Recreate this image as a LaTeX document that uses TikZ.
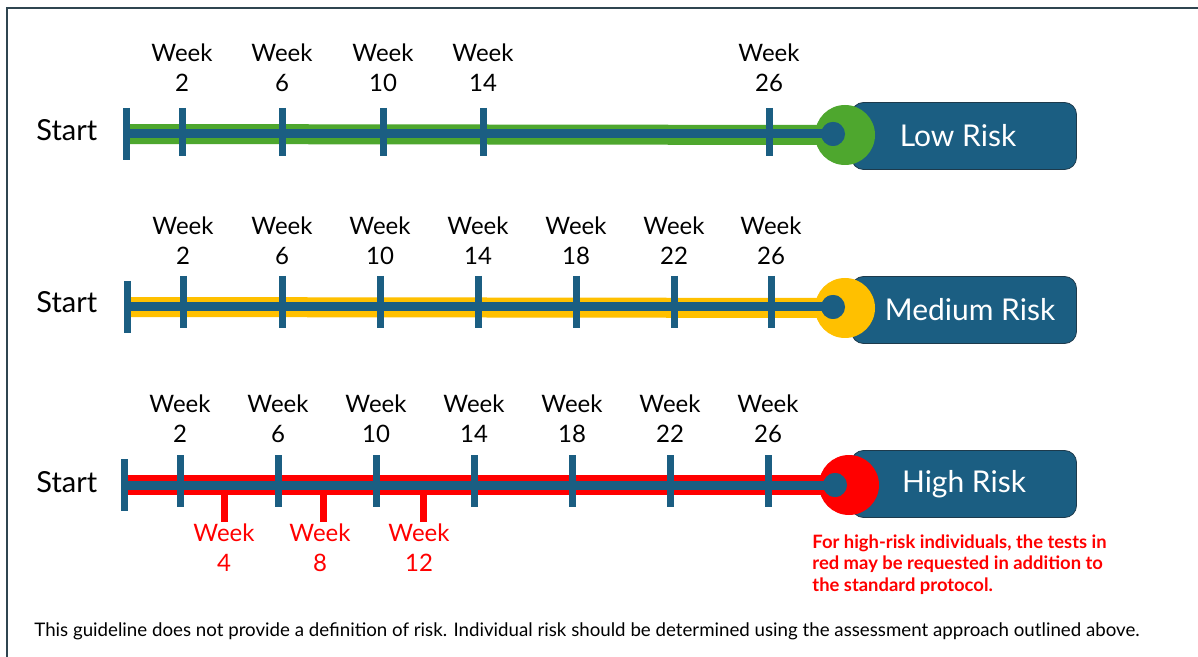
\documentclass[tikz,border=0pt]{standalone}
\usepackage{fontspec}
\setmainfont{Lato}
\usetikzlibrary{positioning}
\definecolor{riskBlue}{HTML}{1B5E82}
\definecolor{riskEdge}{HTML}{1D3A4C}
\definecolor{riskGreen}{HTML}{4EA72E}
\definecolor{riskYellow}{HTML}{FFC000}
\definecolor{riskRed}{HTML}{FF0000}
\definecolor{frameGray}{HTML}{2F4550}
\tikzset{
    band/.style={line width=10pt, draw=#1},
    spine/.style={line width=4.5pt, draw=riskBlue},
    tick/.style={line width=3.5pt, draw=riskBlue},
    extratick/.style={line width=3.5pt, draw=riskRed},
    weeklabel/.style={align=center, inner sep=0pt, font=\fontsize{12}{15}\selectfont},
    extralabel/.style={weeklabel, text=riskRed},
    startlabel/.style={anchor=west, inner sep=0pt, font=\fontsize{14.5}{16}\selectfont},
    riskbox/.style={rectangle, rounded corners=6pt, draw=riskEdge, thin, fill=riskBlue, text=white, minimum width=112.5pt, minimum height=33.5pt, font=\fontsize{15}{17}\selectfont},
    ring/.style={circle, fill=#1, minimum size=30pt, inner sep=0pt},
    dot/.style={circle, fill=riskBlue, minimum size=12pt, inner sep=0pt},
    note/.style={anchor=north west, align=left, inner sep=0pt, text=riskRed, font=\fontsize{9.2}{10.8}\selectfont\bfseries},
    footer/.style={anchor=west, inner sep=0pt, font=\fontsize{9.35}{11}\selectfont},
}
\begin{document}
\begin{tikzpicture}[x=0.5pt, y=-0.5pt]
    \useasboundingbox (0,0) rectangle (1198,657);
    \fill[white] (0,0) rectangle (1198,657);
    \draw[frameGray, line width=1.2pt] (1198,8) -- (7,8) -- (7,657);

    % low risk
    \node[riskbox] (lowBox) at (964,136) {\hspace*{-6pt}Low Risk};
    \node[ring=riskGreen] (lowRing) at (845,135) {};
    \coordinate (lowStart) at (126,134);
    \node[dot] (lowDot) at (833,134) {};
    \draw[band=riskGreen] (lowStart) -- (lowRing.center);
    \draw[spine] (lowStart) -- (lowDot.center);
    \node[dot] at (lowDot) {};
    \draw[tick] ([yshift=13pt]lowStart) -- ([yshift=-13pt]lowStart);
    \foreach \w/\x in {2/182, 6/282, 10/383, 14/483, 26/769} {
        \draw[tick] (\x,108) -- (\x,156);
        \node[weeklabel] (low\w) at (\x,68) {Week\\\w};
    }
    \node[startlabel] (lowLabel) at (36,130) {Start};

    % medium risk
    \node[riskbox] (medBox) at (964,310) {\hspace*{6pt}Medium Risk};
    \node[ring=riskYellow] (medRing) at (845,308) {};
    \coordinate (medStart) at (127,307);
    \node[dot] (medDot) at (833,307) {};
    \draw[band=riskYellow] (medStart) -- (medRing.center);
    \draw[spine] (medStart) -- (medDot.center);
    \node[dot] at (medDot) {};
    \draw[tick] ([yshift=13pt]medStart) -- ([yshift=-13pt]medStart);
    \foreach \w/\x in {2/183, 6/282, 10/380, 14/478, 18/576, 22/674, 26/771} {
        \draw[tick] (\x,276) -- (\x,328);
        \node[weeklabel] (med\w) at (\x,241) {Week\\\w};
    }
    \node[startlabel] (medLabel) at (36,302) {Start};

    % high risk
    \node[riskbox] (highBox) at (964,484) {High Risk};
    \node[ring=riskRed] (highRing) at (849,485) {};
    \coordinate (highStart) at (124,485);
    \node[dot] (highDot) at (835,485) {};
    \draw[band=riskRed] (highStart) -- (highRing.center);
    \draw[spine] (highStart) -- (highDot.center);
    \node[dot] at (highDot) {};
    \draw[tick] ([yshift=13pt]highStart) -- ([yshift=-13pt]highStart);
    \foreach \w/\x in {2/180, 6/278, 10/376, 14/474, 18/572, 22/670, 26/768} {
        \draw[tick] (\x,455) -- (\x,507);
        \node[weeklabel] (high\w) at (\x,419) {Week\\\w};
    }
    \foreach \w/\x/\lx in {4/224/224, 8/323/320, 12/423/419} {
        \draw[extratick] (\x,495) -- (\x,522);
        \node[extralabel] (extra\w) at (\lx,548) {Week\\\w};
    }
    \node[startlabel] (highLabel) at (36,482) {Start};

    \node[note] (highNote) at (812,534) {For high-risk individuals, the tests in\\red may be requested in addition to\\the standard protocol.};
    \node[footer] (guide) at (34,631) {This guideline does not provide a definition of risk. Individual risk should be determined using the assessment approach outlined above.};
\end{tikzpicture}
\end{document}
